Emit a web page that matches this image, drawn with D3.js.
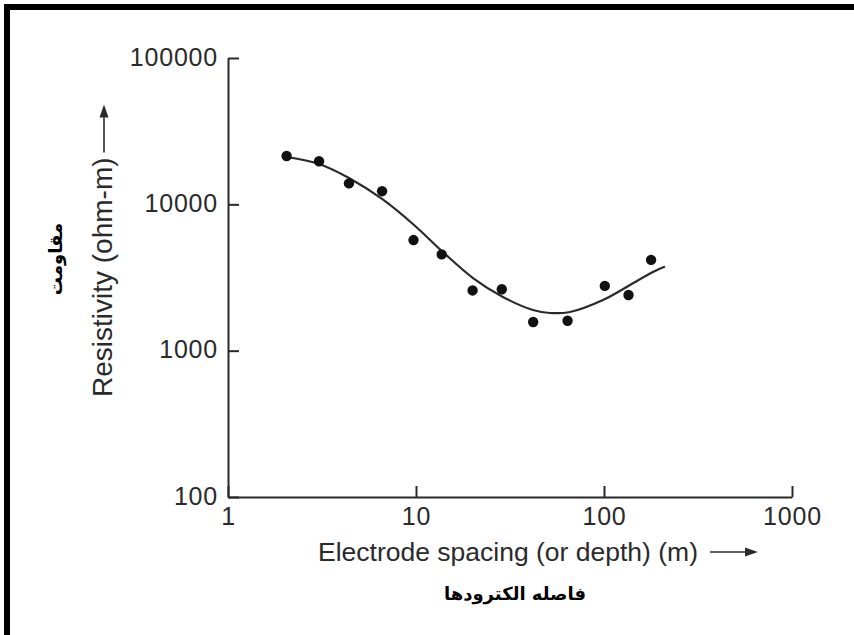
<!DOCTYPE html>
<html>
<head>
<meta charset="utf-8">
<script src="https://cdn.jsdelivr.net/npm/d3@7/dist/d3.min.js"></script>
<style>
  html, body { margin: 0; padding: 0; background: #fff; }
  svg { display: block; }
</style>
</head>
<body>
<svg id="chart" width="854" height="635"></svg>
<script>
// ---- data ----
const xTickValues = [1, 10, 100, 1000];
const yTickValues = [100, 1000, 10000, 100000];
const xTickLabels = ["1", "10", "100", "1000"];
const yTickLabels = ["100", "1000", "10000", "100000"];

// measured points: electrode spacing (m) vs apparent resistivity (ohm-m)
const spacing     = [2.05, 3.05, 4.4, 6.6, 9.7, 13.7, 20, 28.6, 42, 64, 101, 135, 178];
const resistivity = [21400, 19700, 13900, 12300, 5700, 4550, 2580, 2630, 1570, 1600, 2770, 2400, 4170];

// fitted curve
const curveSpacing     = [2.06, 3.05, 4.4, 6.6, 9.76, 13.9, 20.1, 29.0, 41.9, 51.6, 65.9, 98.8, 137.5, 182, 211];
const curveResistivity = [21060, 18870, 15140, 10880, 7225, 4725, 3137, 2327, 1896, 1809, 1838, 2220, 2811, 3448, 3760];

const xTitle = "Electrode spacing (or depth) (m)";
const yTitle = "Resistivity (ohm-m)";
const xTitleFa = "فاصله الکترودها";
const yTitleFa = "مقاومت";

// ---- drawing ----
const svg = d3.select("#chart");
const ink = "#2a2a2a";
const latin = "'Liberation Sans', Arial, Helvetica, sans-serif";

// frame (top and left edges visible)
svg.append("rect").attr("x", 7).attr("y", 7).attr("width", 860).attr("height", 640)
  .attr("fill", "none").attr("stroke", "#000").attr("stroke-width", 6);

const x = d3.scaleLog().domain([1, 1000]).range([228, 792]);
const y = d3.scaleLog().domain([100, 100000]).range([497, 58]);

const yAxis = d3.axisLeft(y).tickValues(yTickValues)
  .tickFormat((d, i) => yTickLabels[i]).tickSizeInner(-11).tickSizeOuter(0).tickPadding(10);
const xAxis = d3.axisBottom(x).tickValues(xTickValues)
  .tickFormat((d, i) => xTickLabels[i]).tickSizeInner(-11).tickSizeOuter(0).tickPadding(10);

const gy = svg.append("g").attr("transform", "translate(228,0)").call(yAxis);
const gx = svg.append("g").attr("transform", "translate(0,497)").call(xAxis);

[gx, gy].forEach(g => {
  g.select(".domain").attr("stroke", ink).attr("stroke-width", 2);
  g.selectAll(".tick line").attr("stroke", ink).attr("stroke-width", 2);
  g.selectAll(".tick text").attr("fill", ink).style("font-family", latin)
    .style("font-size", "25px").style("letter-spacing", "0.8px");
});
gy.selectAll(".tick text").attr("dy", "0.28em");

// curve
const line = d3.line()
  .x((d, i) => x(curveSpacing[i]))
  .y((d, i) => y(curveResistivity[i]))
  .curve(d3.curveCatmullRom.alpha(0.5));
svg.append("path").datum(curveSpacing).attr("d", line)
  .attr("fill", "none").attr("stroke", ink).attr("stroke-width", 2.2);

// points
svg.append("g").selectAll("circle").data(spacing).join("circle")
  .attr("cx", (d) => x(d)).attr("cy", (d, i) => y(resistivity[i]))
  .attr("r", 5.2).attr("fill", "#111");

// x title
const xt = svg.append("text").attr("x", 318).attr("y", 561)
  .attr("fill", ink).style("font-family", latin).style("font-size", "26.5px").text(xTitle);
const xtEnd = 318 + xt.node().getComputedTextLength();
svg.append("line").attr("x1", xtEnd + 12).attr("x2", xtEnd + 52).attr("y1", 552).attr("y2", 552)
  .attr("stroke", ink).attr("stroke-width", 1.6);
svg.append("path").attr("d", `M${xtEnd + 60},552 L${xtEnd + 47},547.5 L${xtEnd + 47},556.5 Z`).attr("fill", ink);

// y title
const yt = svg.append("text").attr("transform", "translate(112,397) rotate(-90)")
  .attr("fill", ink).style("font-family", latin).style("font-size", "28px").text(yTitle);
const ytEnd = 397 - yt.node().getComputedTextLength();
svg.append("line").attr("x1", 104).attr("x2", 104).attr("y1", ytEnd - 5).attr("y2", ytEnd - 45)
  .attr("stroke", ink).attr("stroke-width", 1.6);
svg.append("path").attr("d", `M104,${ytEnd - 53} L99.5,${ytEnd - 40} L108.5,${ytEnd - 40} Z`).attr("fill", ink);

// Persian titles
svg.append("text").attr("x", 515).attr("y", 600).attr("text-anchor", "middle")
  .attr("fill", "#000").style("font-family", "'DejaVu Sans', sans-serif").style("font-weight", "bold")
  .style("font-size", "18px").attr("direction", "rtl").text(xTitleFa);
svg.append("text").attr("transform", "translate(62,259) rotate(-90)").attr("text-anchor", "middle")
  .attr("fill", "#000").style("font-family", "'DejaVu Sans', sans-serif").style("font-weight", "bold")
  .style("font-size", "18px").attr("direction", "rtl").text(yTitleFa);
</script>
</body>
</html>
